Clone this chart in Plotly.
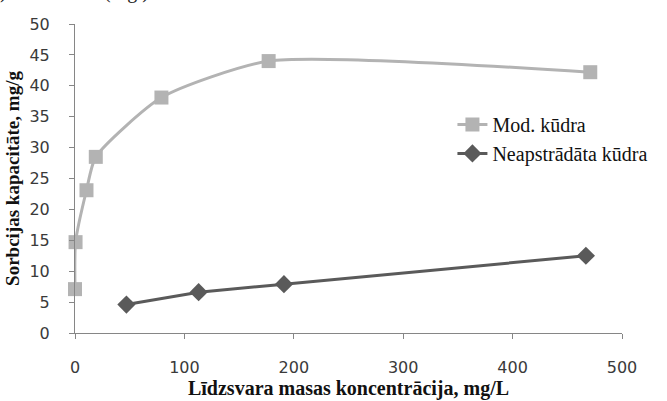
import plotly.graph_objects as go

# Data
mod_x = [0, 0.5, 10.5, 19, 79, 177, 471]
mod_y = [7.1, 14.7, 23.1, 28.5, 38.1, 44.0, 42.2]

neap_x = [47, 113, 191, 467]
neap_y = [4.6, 6.6, 7.9, 12.5]

mod_name = "Mod. kūdra"
neap_name = "Neapstrādāta kūdra"
x_title = "Līdzsvara masas koncentrācija, mg/L"
y_title = "Sorbcijas kapacitāte, mg/g"

x_ticks = [0, 100, 200, 300, 400, 500]
y_ticks = [0, 5, 10, 15, 20, 25, 30, 35, 40, 45, 50]

SERIF = "Liberation Serif, Times New Roman, serif"

fig = go.Figure()
fig.add_trace(go.Scatter(
    x=mod_x, y=mod_y, name=mod_name, mode="lines+markers",
    line=dict(color="#B3B3B3", width=3, shape="spline", smoothing=0.6),
    marker=dict(symbol="square", size=14, color="#B3B3B3"),
    cliponaxis=False,
))
fig.add_trace(go.Scatter(
    x=neap_x, y=neap_y, name=neap_name, mode="lines+markers",
    line=dict(color="#5A5A5A", width=3),
    marker=dict(symbol="diamond", size=14, color="#5A5A5A"),
    cliponaxis=False,
))

fig.update_layout(
    width=667, height=401,
    margin=dict(l=75, r=45, t=24, b=68),
    paper_bgcolor="white", plot_bgcolor="white",
    showlegend=True,
    legend=dict(
        x=0.69, y=0.628, xanchor="left", yanchor="middle",
        font=dict(family=SERIF, size=20, color="#111111"),
        bgcolor="rgba(0,0,0,0)", tracegroupgap=0, itemwidth=30,
    ),
    xaxis=dict(
        range=[0, 500], tickvals=x_ticks, ticks="outside", ticklen=5,
        tickcolor="#868686", showline=True, linecolor="#868686", linewidth=1,
        showgrid=False, zeroline=False, automargin=False,
        tickfont=dict(family="DejaVu Sans", size=16, color="#3A3A3A"),
        ticklabelstandoff=15,
        title=dict(text="<b>" + x_title + "</b>", standoff=4,
                   font=dict(family=SERIF, size=20, color="#111111")),
    ),
    yaxis=dict(
        range=[0, 50], tickvals=y_ticks, ticks="outside", ticklen=5,
        tickcolor="#868686", showline=True, linecolor="#868686", linewidth=1,
        showgrid=False, zeroline=False, automargin=False,
        tickfont=dict(family="DejaVu Sans", size=16, color="#3A3A3A"),
        ticklabelstandoff=16,
        title=dict(text="<b>" + y_title + "</b>", standoff=4,
                   font=dict(family=SERIF, size=19, color="#111111")),
    ),
)

# cropped line of document text at the very top
fig.add_annotation(text=")", xref="paper", yref="paper", x=-0.13, y=1.061,
                   xanchor="center", yanchor="bottom", showarrow=False,
                   font=dict(family=SERIF, size=20, color="#222222"))
fig.add_annotation(text="(Fig.)", xref="paper", yref="paper", x=0.095, y=1.061,
                   xanchor="center", yanchor="bottom", showarrow=False,
                   font=dict(family=SERIF, size=20, color="#222222"))

fig.write_html(
    "out.html",
    config={"displayModeBar": False},
    post_script="document.body.style.margin='0';document.body.style.overflow='hidden';",
)
